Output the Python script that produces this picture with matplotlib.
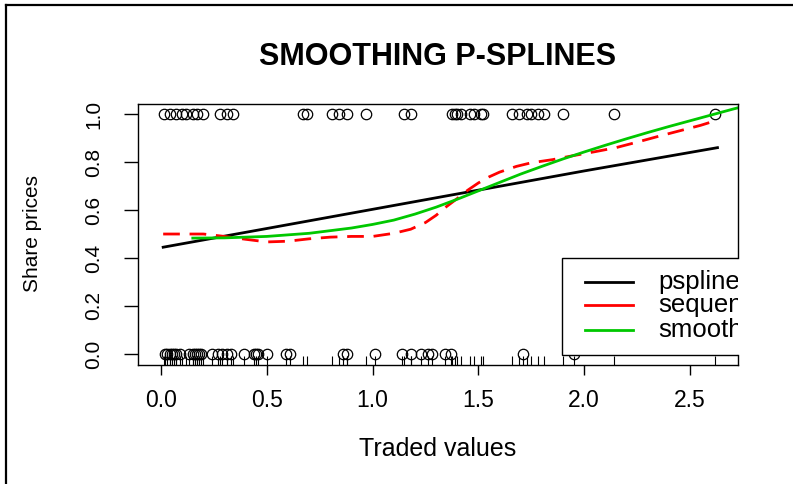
import matplotlib
matplotlib.use('Agg')
import matplotlib.pyplot as plt
from matplotlib.patches import Rectangle
from matplotlib.lines import Line2D

plt.rcParams['font.family'] = ['Liberation Sans', 'DejaVu Sans']

# ---------------- data ----------------
# observations with response 1 (top row) and 0 (bottom row)
x_ones = [0.015, 0.04, 0.07, 0.10, 0.12, 0.15, 0.17, 0.20,
          0.28, 0.31, 0.34, 0.67, 0.69, 0.81, 0.84, 0.88, 0.97,
          1.15, 1.18, 1.375, 1.39, 1.40, 1.42, 1.46, 1.48, 1.51, 1.52,
          1.66, 1.69, 1.73, 1.75, 1.78, 1.81, 1.90, 2.14, 2.62]
x_zeros = [0.02, 0.03, 0.04, 0.05, 0.06, 0.07, 0.09, 0.13, 0.15, 0.16,
           0.17, 0.18, 0.19, 0.24, 0.27, 0.29, 0.31, 0.33, 0.39, 0.44,
           0.45, 0.46, 0.50, 0.59, 0.61, 0.86, 0.88, 1.01, 1.14, 1.18,
           1.23, 1.26, 1.28, 1.34, 1.37, 1.71, 1.95]

pspline_x = [0.01, 0.5, 1.0, 1.5, 2.0, 2.63]
pspline_y = [0.445, 0.523, 0.603, 0.683, 0.763, 0.860]

seq_x = [0.01, 0.2, 0.3, 0.4, 0.5, 0.6, 0.7, 0.8, 0.9, 1.0, 1.1, 1.18,
         1.25, 1.30, 1.35, 1.40, 1.45, 1.50, 1.55, 1.60, 1.68, 1.75, 1.85,
         1.95, 2.05, 2.15, 2.25, 2.35, 2.45, 2.55, 2.63]
seq_y = [0.50, 0.50, 0.49, 0.478, 0.467, 0.47, 0.48, 0.487, 0.49, 0.49,
         0.503, 0.52, 0.548, 0.578, 0.615, 0.648, 0.683, 0.713, 0.738, 0.758,
         0.782, 0.797, 0.81, 0.827, 0.843, 0.86, 0.883, 0.907, 0.93, 0.953, 0.975]

smooth_x = [0.15, 0.3, 0.5, 0.7, 0.9, 1.0, 1.1, 1.2, 1.3, 1.4, 1.5, 1.6,
            1.7, 1.8, 1.9, 2.0, 2.1, 2.2, 2.3, 2.4, 2.5, 2.6, 2.7, 2.8]
smooth_y = [0.483, 0.484, 0.49, 0.503, 0.525, 0.54, 0.558, 0.583, 0.612,
            0.645, 0.68, 0.715, 0.75, 0.782, 0.813, 0.842, 0.87, 0.897,
            0.923, 0.948, 0.972, 0.996, 1.02, 1.043]

legend_labels = ['pspline', 'sequential', 'smoothing']
x_ticks = [0.0, 0.5, 1.0, 1.5, 2.0, 2.5]
y_ticks = [0.0, 0.2, 0.4, 0.6, 0.8, 1.0]
title = 'SMOOTHING P-SPLINES'
xlabel = 'Traded values'
ylabel = 'Share prices'

# ---------------- figure ----------------
W, H = 793, 484
fig = plt.figure(figsize=(W / 100, H / 100), dpi=100)
ax = fig.add_axes([138 / W, 1 - 365 / H, 600 / W, 261 / H])
ax.set_xlim(-0.109, 2.727)
ax.set_ylim(-0.046, 1.042)

for s in ax.spines.values():
    s.set_linewidth(1.0)
ax.spines['right'].set_visible(False)

# points
ax.plot(x_ones, [1] * len(x_ones), linestyle='none', marker='o', ms=7.5,
        mfc='none', mec='black', mew=0.9, zorder=2)
ax.plot(x_zeros, [0] * len(x_zeros), linestyle='none', marker='o', ms=7.5,
        mfc='none', mec='black', mew=0.9, zorder=2)

# curves
ax.plot(pspline_x, pspline_y, color='black', lw=2.0, zorder=3)
ax.plot(seq_x, seq_y, color='#FF0000', lw=2.0, dashes=(6, 3.5), zorder=3)
ax.plot(smooth_x, smooth_y, color='#00C800', lw=2.0, zorder=3)

# legend (manually drawn, clipped by the plot region as in the original)
lx0, ly0, ly1 = 1.895, -0.003, 0.40
ax.add_patch(Rectangle((lx0, ly0), 3.0 - lx0, ly1 - ly0, facecolor='white',
                       edgecolor='black', lw=1.0, zorder=5, clip_on=True))
leg_colors = ['black', '#FF0000', '#00C800']
leg_rows = [0.30, 0.204, 0.10]
for lab, col, yy in zip(legend_labels, leg_colors, leg_rows):
    ax.plot([2.004, 2.231], [yy, yy], color=col, lw=2.0, zorder=6)
    ax.text(2.349, yy, lab, va='center', ha='left', fontsize=18.5,
            clip_on=True, zorder=7)

# right frame segments (hidden behind the legend in between)
ytr = lambda v: (v + 0.046) / 1.088
ax.add_line(Line2D([1, 1], [ytr(ly1), 1], transform=ax.transAxes,
                   color='black', lw=1.0, clip_on=False, zorder=8))
ax.add_line(Line2D([1, 1], [0, ytr(ly0)], transform=ax.transAxes,
                   color='black', lw=1.0, clip_on=False, zorder=8))

# rug
all_x = x_ones + x_zeros
ax.vlines(all_x, 0, 0.036, transform=ax.get_xaxis_transform(),
          color='black', lw=0.8, zorder=9)

# axes
ax.set_xticks(x_ticks)
ax.set_xticklabels([f'{v:.1f}' for v in x_ticks])
ax.set_yticks(y_ticks)
ax.set_yticklabels([f'{v:.1f}' for v in y_ticks], rotation=90, va='center')
ax.tick_params(axis='x', direction='out', length=7.5, width=1.0,
               labelsize=16.5, pad=10)
ax.tick_params(axis='y', direction='out', length=10, width=1.0,
               labelsize=15, pad=15)

ax.set_xlabel(xlabel, fontsize=18)
ax.xaxis.label.set_va('center')
ax.xaxis.set_label_coords(438 / W, 1 - 449 / H, transform=fig.transFigure)
ax.set_ylabel(ylabel, fontsize=15)
ax.yaxis.label.set_va('center')
ax.yaxis.set_label_coords(33 / W, 1 - 234 / H, transform=fig.transFigure)

ax.set_title(title, fontsize=22, fontweight='bold', y=1 + 47 / 261,
             va='center', pad=0)

# outer frame of the original image
fig.add_artist(Line2D([6 / W, 1], [1 - 5 / H, 1 - 5 / H],
                      transform=fig.transFigure, color='black', lw=1.6))
fig.add_artist(Line2D([6 / W, 6 / W], [0, 1 - 5 / H],
                      transform=fig.transFigure, color='black', lw=1.6))

fig.savefig('out.png', dpi=100)
